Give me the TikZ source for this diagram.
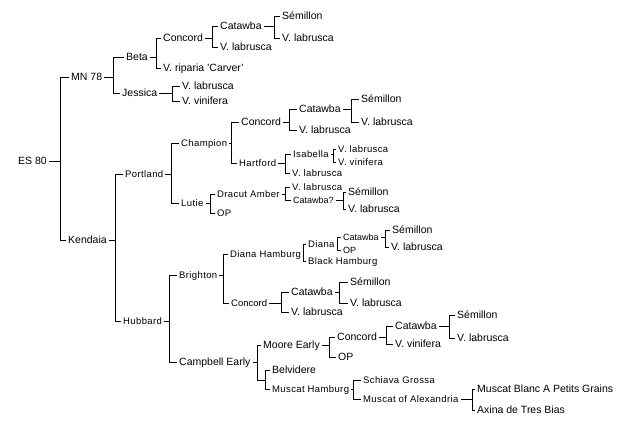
\documentclass[tikz,border=0pt]{standalone}
\usepackage{fontspec}
\setmainfont{Liberation Sans}
\newfontfamily\smallf[LetterSpace=4]{Liberation Sans}
\tikzset{
  L/.style={anchor=west, inner sep=0pt, font=\fontsize{10.5}{12}\selectfont, text height=7.6pt, text depth=0pt},
  M/.style={anchor=west, inner sep=0pt, font=\fontsize{9.5}{11}\selectfont, text height=7pt, text depth=0pt},
  S/.style={anchor=west, inner sep=0pt, font=\smallf\fontsize{9.5}{11}\selectfont, text height=6.8pt, text depth=0pt},
  T/.style={anchor=west, inner sep=0pt, font=\fontsize{9}{11}\selectfont, text height=6.6pt, text depth=0pt},
  link/.style={draw=black, line width=1pt}
}
\newcommand\br[3]{\draw[link] ([xshift=2pt]#1.east) -- (#2,0 |- #1.east) |- ([xshift=-2pt]#3.west);}
\begin{document}
\begin{tikzpicture}[x=1pt,y=-1pt]
\useasboundingbox (0,0) rectangle (633,426);
% top part
\node[L] (es) at (18,161) {ES 80};
\node[L] (mn) at (71,77) {MN 78};
\node[L] (ken) at (68,240) {Kendaia};
\node[L] (beta) at (126,57) {Beta};
\node[L] (jes) at (122,93) {Jessica};
\node[L] (conc1) at (163,38) {Concord};
\node[L] (rip) at (163,68) {V. riparia 'Carver'};
\node[L] (cat1) at (220,26) {Catawba};
\node[L] (lab1) at (220,47) {V. labrusca};
\node[L] (sem1) at (282,16) {Sémillon};
\node[L] (lab2) at (282,38) {V. labrusca};
\node[L] (jlab) at (182,86) {V. labrusca};
\node[L] (jvin) at (182,101) {V. vinifera};
\br{es}{60}{mn} \br{es}{60}{ken}
\br{mn}{113}{beta} \br{mn}{113}{jes}
\br{beta}{156}{conc1} \br{beta}{156}{rip}
\br{conc1}{212}{cat1} \br{conc1}{212}{lab1}
\br{cat1}{274}{sem1} \br{cat1}{274}{lab2}
\br{jes}{172}{jlab} \br{jes}{172}{jvin}
% Portland
\node[S] (port) at (125,174) {Portland};
\node[S] (hub) at (123,321) {Hubbard};
\br{ken}{115}{port} \br{ken}{115}{hub}
\node[S] (champ) at (181,143) {Champion};
\node[S] (lutie) at (181,203) {Lutie};
\br{port}{171}{champ} \br{port}{171}{lutie}
\node[L] (conc2) at (241,122) {Concord};
\node[S] (hart) at (239,163) {Hartford};
\br{champ}{231}{conc2} \br{champ}{231}{hart}
\node[L] (cat2) at (299,109) {Catawba};
\node[L] (lab3) at (299,130) {V. labrusca};
\br{conc2}{289}{cat2} \br{conc2}{289}{lab3}
\node[L] (sem2) at (361,99) {Sémillon};
\node[L] (lab4) at (361,122) {V. labrusca};
\br{cat2}{351}{sem2} \br{cat2}{351}{lab4}
\node[S] (isa) at (293,154) {Isabella};
\node[S] (hlab) at (292,173) {V. labrusca};
\br{hart}{285}{isa} \br{hart}{285}{hlab}
\node[S] (ilab) at (338,149) {V. labrusca};
\node[S] (ivin) at (338,162) {V. vinifera};
\br{isa}{333}{ilab} \br{isa}{333}{ivin}
\node[S] (drac) at (217,194) {Dracut Amber};
\node[S] (op1) at (217,213) {OP};
\br{lutie}{210}{drac} \br{lutie}{210}{op1}
\node[S] (dlab) at (292,187) {V. labrusca};
\node[T] (catq) at (293,200) {Catawba?};
\br{drac}{285}{dlab} \br{drac}{285}{catq}
\node[L] (sem3) at (348,192) {Sémillon};
\node[L] (lab5) at (348,209) {V. labrusca};
\br{catq}{343}{sem3} \br{catq}{343}{lab5}
% Hubbard
\node[S] (bri) at (179,275) {Brighton};
\node[L] (camp) at (179,362) {Campbell Early};
\br{hub}{169}{bri} \br{hub}{169}{camp}
\node[S] (dh) at (230,254) {Diana Hamburg};
\node[M] (conc3) at (231,303) {Concord};
\br{bri}{223}{dh} \br{bri}{223}{conc3}
\node[S] (diana) at (308,244) {Diana};
\node[S] (bh) at (308,261) {Black Hamburg};
\br{dh}{303}{diana} \br{dh}{303}{bh}
\node[T] (dcat) at (343,237) {Catawba};
\node[T] (dop) at (343,250) {OP};
\br{diana}{337}{dcat} \br{diana}{337}{dop}
\node[L] (sem4) at (392,230) {Sémillon};
\node[L] (lab6) at (391,247) {V. labrusca};
\br{dcat}{385}{sem4} \br{dcat}{385}{lab6}
\node[L] (cat3) at (291,292) {Catawba};
\node[L] (lab7) at (291,312) {V. labrusca};
\br{conc3}{281}{cat3} \br{conc3}{281}{lab7}
\node[L] (sem5) at (350,282) {Sémillon};
\node[L] (lab8) at (350,303) {V. labrusca};
\br{cat3}{339}{sem5} \br{cat3}{339}{lab8}
% Campbell Early
\node[L] (me) at (263,345) {Moore Early};
\coordinate (bm) at (265,380);
\br{camp}{257}{me}
\draw[link] ([xshift=2pt]camp.east) -- (257,0 |- camp.east) |- (bm);
\node[L] (conc4) at (337,337) {Concord};
\node[L] (op2) at (338,357) {OP};
\br{me}{329}{conc4} \br{me}{329}{op2}
\node[L] (cat4) at (395,326) {Catawba};
\node[L] (vin4) at (395,344) {V. vinifera};
\br{conc4}{386}{cat4} \br{conc4}{386}{vin4}
\node[L] (sem6) at (457,315) {Sémillon};
\node[L] (lab9) at (457,338) {V. labrusca};
\br{cat4}{449}{sem6} \br{cat4}{449}{lab9}
\node[L] (bel) at (272,370) {Belvidere};
\node[S] (mh) at (272,389) {Muscat Hamburg};
\draw[link] (bm) |- ([xshift=-2pt]bel.west);
\draw[link] (bm) |- ([xshift=-2pt]mh.west);
\node[S] (sg) at (363,380) {Schiava Grossa};
\node[S] (moa) at (363,399) {Muscat of Alexandria};
\br{mh}{353}{sg} \br{mh}{353}{moa}
\node[L] (mb) at (477,389) {Muscat Blanc A Petits Grains};
\node[L] (ax) at (477,410) {Axina de Tres Bias};
\br{moa}{472}{mb} \br{moa}{472}{ax}
\end{tikzpicture}
\end{document}
